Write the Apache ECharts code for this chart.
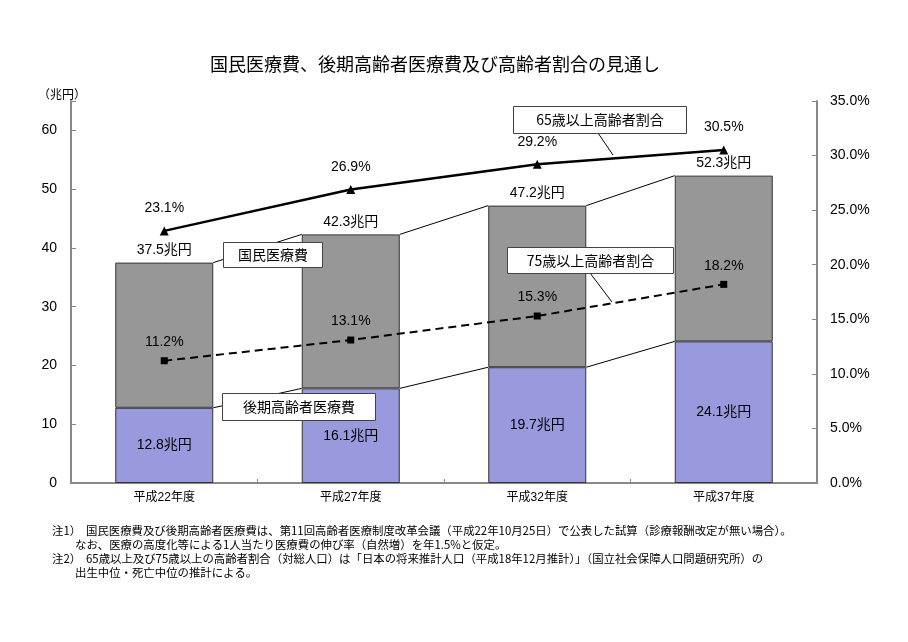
<!DOCTYPE html>
<html>
<head>
<meta charset="utf-8">
<script src="https://cdn.jsdelivr.net/npm/echarts@6/dist/echarts.min.js"></script>
<style>
html, body { margin: 0; padding: 0; background: #fff; }
#chart { width: 908px; height: 642px; }
</style>
</head>
<body>
<div id="chart"></div>
<script>
var years = ['平成22年度', '平成27年度', '平成32年度', '平成37年度'];
var totalCost = [37.5, 42.3, 47.2, 52.3];     // 国民医療費 (兆円)
var lateElderCost = [12.8, 16.1, 19.7, 24.1]; // 後期高齢者医療費 (兆円)
var over65 = [23.1, 26.9, 29.2, 30.5];        // 65歳以上高齢者割合 (%)
var over75 = [11.2, 13.1, 15.3, 18.2];        // 75歳以上高齢者割合 (%)
var leftTicks = [0, 10, 20, 30, 40, 50, 60];

var FONT = '"Liberation Sans", "Noto Sans CJK JP", sans-serif';
var BAR_W = 98;

var myChart = echarts.init(document.getElementById('chart'));

// upper gray part = total minus lower part
var restCost = totalCost.map(function (v, i) { return +(v - lateElderCost[i]).toFixed(1); });

// connector lines between bars (series lines)
function connectorData(arr) {
    var d = [];
    for (let i = 0; i < arr.length - 1; i++) {
        d.push([i, arr[i], arr[i + 1]]);
    }
    return d;
}
function connectorItem(params, api) {
    var i = api.value(0);
    var p1 = api.coord([i, api.value(1)]);
    var p2 = api.coord([i + 1, api.value(2)]);
    return {
        type: 'line',
        shape: { x1: p1[0] + BAR_W / 2, y1: p1[1], x2: p2[0] - BAR_W / 2, y2: p2[1] },
        style: { stroke: '#000', lineWidth: 1 }
    };
}

function calloutBox(x, y, w, h, text) {
    return {
        type: 'group',
        left: x, top: y, zlevel: 1,
        children: [{
            type: 'rect', zlevel: 1, z: 100,
            shape: { x: 0, y: 0, width: w, height: h },
            style: { fill: '#fff', stroke: '#444', lineWidth: 1 }
        }, {
            type: 'text', zlevel: 1, z: 101,
            x: w / 2, y: h / 2,
            style: { text: text, font: '14px "Noto Sans CJK JP", sans-serif', fill: '#000', align: 'center', verticalAlign: 'middle' }
        }]
    };
}

var notes = [
    ['注1）', '国民医療費及び後期高齢者医療費は、第11回高齢者医療制度改革会議（平成22年10月25日）で公表した試算（診療報酬改定が無い場合）。'],
    ['', 'なお、医療の高度化等による1人当たり医療費の伸び率（自然増）を年1.5%と仮定。'],
    ['注2）', '65歳以上及び75歳以上の高齢者割合（対総人口）は「日本の将来推計人口（平成18年12月推計）」（国立社会保障人口問題研究所）の'],
    ['', '出生中位・死亡中位の推計による。']
];
var noteY = [532, 546, 560, 574];
var noteGraphics = [];
notes.forEach(function (n, i) {
    if (n[0]) {
        noteGraphics.push({ type: 'text', left: 52, top: noteY[i] - 7,
            style: { text: n[0], font: '11.4px "Noto Sans CJK JP", sans-serif', fill: '#000' } });
    }
    noteGraphics.push({ type: 'text', left: n[0] ? 86 : 75, top: noteY[i] - 7,
        style: { text: n[1], font: '11.4px "Noto Sans CJK JP", sans-serif', fill: '#000' } });
});

var option = {
    animation: false,
    backgroundColor: '#fff',
    title: {
        text: '国民医療費、後期高齢者医療費及び高齢者割合の見通し',
        left: 205,
        top: 50,
        textStyle: { fontFamily: '"Noto Sans CJK JP", sans-serif', fontSize: 18, fontWeight: 'normal', color: '#000' }
    },
    grid: { left: 71, right: 91, top: 101, bottom: 159 },
    xAxis: {
        type: 'category',
        data: years,
        axisLine: { lineStyle: { color: '#888', width: 2 } },
        axisTick: { show: true, inside: true, length: 4, lineStyle: { color: '#888' } },
        axisLabel: { fontFamily: FONT, fontSize: 12, color: '#000', margin: 9 }
    },
    yAxis: [{
        type: 'value',
        min: 0, max: 65, interval: 10,
        axisLine: { show: true, lineStyle: { color: '#888', width: 2 } },
        axisTick: { show: true, inside: true, length: 5, lineStyle: { color: '#888' } },
        splitLine: { show: false },
        axisLabel: {
            fontFamily: FONT, fontSize: 14, color: '#000', margin: 14,
            formatter: function (v) { return leftTicks.indexOf(v) >= 0 ? String(v) : ''; }
        }
    }, {
        type: 'value',
        min: 0, max: 35, interval: 5,
        axisLine: { show: true, lineStyle: { color: '#888', width: 2 } },
        axisTick: { show: true, inside: true, length: 5, lineStyle: { color: '#888' } },
        splitLine: { show: false },
        axisLabel: {
            fontFamily: FONT, fontSize: 14, color: '#000', margin: 13,
            formatter: function (v) { return v.toFixed(1) + '%'; }
        }
    }],
    series: [{
        name: '後期高齢者医療費',
        type: 'bar',
        stack: 'cost',
        data: lateElderCost,
        barWidth: BAR_W,
        itemStyle: { color: '#9999dd', borderColor: '#333', borderWidth: 1 },
        label: {
            show: true, position: 'inside',
            fontFamily: FONT, fontSize: 14, color: '#000',
            formatter: function (p) { return p.value + '兆円'; }
        }
    }, {
        name: '国民医療費',
        type: 'bar',
        stack: 'cost',
        data: restCost,
        barWidth: BAR_W,
        itemStyle: { color: '#979797', borderColor: '#333', borderWidth: 1 },
        label: {
            show: true, position: 'top', distance: 5,
            fontFamily: FONT, fontSize: 14, color: '#000',
            formatter: function (p) { return totalCost[p.dataIndex] + '兆円'; }
        }
    }, {
        type: 'custom',
        renderItem: connectorItem,
        data: connectorData(totalCost),
        silent: true, z: 1
    }, {
        type: 'custom',
        renderItem: connectorItem,
        data: connectorData(lateElderCost),
        silent: true, z: 1
    }, {
        name: '65歳以上高齢者割合',
        type: 'line',
        yAxisIndex: 1,
        data: over65,
        symbol: 'triangle',
        symbolSize: 9,
        itemStyle: { color: '#000' },
        lineStyle: { color: '#000', width: 2.5 },
        label: {
            show: true, position: 'top', distance: 11,
            fontFamily: FONT, fontSize: 14, color: '#000',
            formatter: function (p) { return p.value.toFixed(1) + '%'; }
        },
        z: 5
    }, {
        name: '75歳以上高齢者割合',
        type: 'line',
        yAxisIndex: 1,
        data: over75,
        symbol: 'rect',
        symbolSize: 7,
        itemStyle: { color: '#000' },
        lineStyle: { color: '#000', width: 2, type: [8, 5] },
        label: {
            show: true, position: 'top', distance: 8,
            fontFamily: FONT, fontSize: 14, color: '#000',
            formatter: function (p) { return p.value.toFixed(1) + '%'; }
        },
        z: 5
    }],
    graphic: [
        { type: 'text', left: 38, top: 88,
          style: { text: '（兆円）', font: '12px "Noto Sans CJK JP", sans-serif', fill: '#000' } },
        { type: 'line', zlevel: 1, shape: { x1: 598, y1: 133, x2: 613, y2: 155 }, style: { stroke: '#000', lineWidth: 1 } },
        calloutBox(513, 106, 173, 27, '65歳以上高齢者割合'),
        calloutBox(223, 242, 99, 25, '国民医療費'),
        { type: 'line', zlevel: 1, shape: { x1: 590, y1: 273, x2: 612, y2: 302 }, style: { stroke: '#000', lineWidth: 1 } },
        calloutBox(507, 247, 166, 26, '75歳以上高齢者割合'),
        calloutBox(222, 393, 153, 27, '後期高齢者医療費')
    ].concat(noteGraphics)
};

myChart.setOption(option);
</script>
</body>
</html>
